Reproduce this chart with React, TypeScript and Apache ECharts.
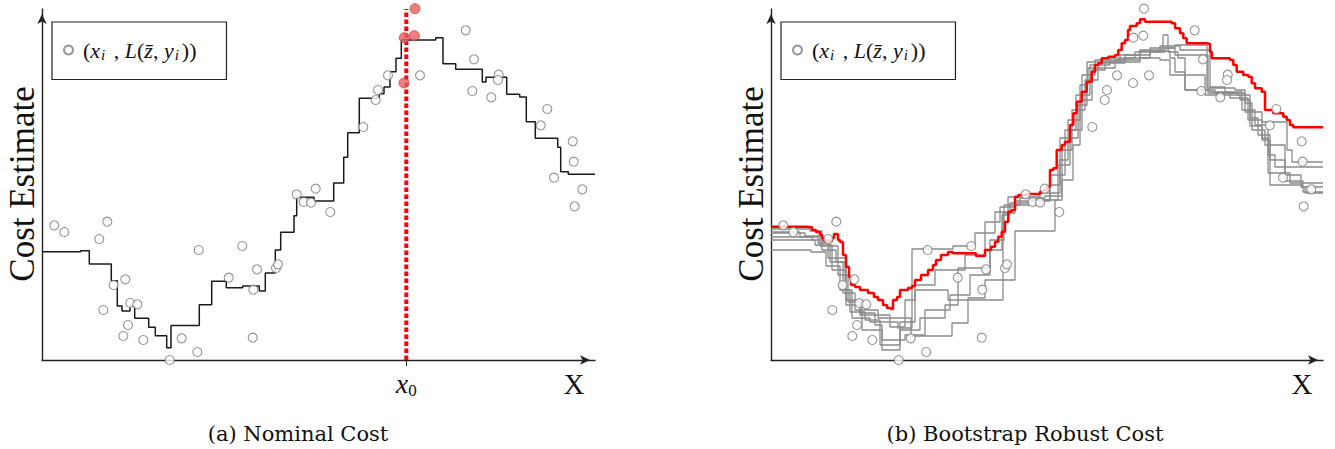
import React, { useEffect, useRef } from "react";
import * as echarts from "echarts";

// ---------- data (x: position along X, y: cost estimate) ----------
const samplePoints: number[][] = [
  [12.3, 134.7], [22.3, 128], [65.3, 138.3], [57.3, 121], [156.7, 110], [200.3, 114],
  [83.3, 80.7], [71.7, 75], [215, 90.7], [186.7, 82.3], [211.3, 70.3], [234, 92],
  [236, 95.7], [61.3, 50], [88.3, 57], [95.3, 55.7], [86, 35], [81.3, 24], [101.3, 20],
  [139.7, 21.7], [210.7, 22.3], [155.3, 8], [127.7, 0], [254.7, 165.7], [261.7, 158],
  [269, 157.3], [273.7, 171.3], [288.3, 148], [321.3, 233], [333.7, 260], [336, 270],
  [346, 284.7], [378, 284.7], [423.7, 329.7], [432, 300.7], [430.3, 269], [449.3, 262.7],
  [456.7, 285.3], [456, 280], [505.3, 251], [498.7, 234.7], [530.7, 218.7], [531.7, 198.3],
  [512, 182.3], [540.3, 170.7], [532.7, 153.7],
];
const nearX0Points: number[][] = [[373, 351.3], [362.3, 322.3], [372.3, 324.3], [362, 277]];
const x0 = 364.3;

const nominalCost: number[][] = [
  [0, 108.3], [38.7, 109.3], [47.3, 96], [69.3, 79.3], [75.3, 54], [80, 49], [88, 54],
  [92.7, 41.7], [106.7, 32.7], [113.3, 24.3], [124.7, 12.3], [129, 34.5], [157.3, 55.3],
  [169.7, 78.7], [184.3, 72.3], [200.7, 74], [217.3, 69], [223.3, 87], [233.3, 110],
  [238.7, 127.7], [252, 144.3], [254.7, 162.7], [272, 159], [291.7, 177], [301.7, 202.7],
  [305.7, 227.3], [317.3, 261.7], [337.3, 266.3], [342, 273], [348, 288.3], [354, 301.7],
  [359.3, 320], [393.7, 322.3], [401, 296.3], [413.7, 290.7], [440.3, 278], [444, 282.7],
  [464.7, 265.7], [477.7, 263], [484.3, 238.3], [493.3, 221.7], [515.7, 212.7],
  [518.7, 188.3], [526.3, 185.7], [553, 185.7],
];

const bootstrap1: number[][] = [
  [0, 131], [39, 129], [51, 110], [65, 98], [74, 70], [81, 42], [99, 38], [127, 32],
  [141, 111], [182, 114], [204, 127], [224, 148], [237, 163], [269, 167], [289, 222],
  [307, 255], [316, 298], [349, 305], [369, 310], [392, 325], [397, 308], [407, 302],
  [414, 270], [439, 268], [459, 262], [477, 240], [491, 222], [497, 187], [519, 177], [552, 177],
];
const bootstrap2: number[][] = [
  [0, 128], [29, 123], [47, 117], [57, 102], [75, 60], [91, 30], [111, 10], [129, 38],
  [144, 70], [177, 60], [232, 147], [244, 155], [271, 160], [287, 195], [299, 230],
  [311, 285], [324, 300], [354, 305], [379, 312], [404, 315], [436, 272], [464, 270],
  [474, 248], [491, 238], [516, 210], [521, 198], [552, 198],
];
const bootstrap3: number[][] = [
  [0, 123], [41, 120], [59, 98], [72, 67], [84, 50], [107, 42], [140, 24], [181, 37],
  [197, 62], [214, 80], [244, 129], [284, 160], [291, 180], [302, 215], [309, 260],
  [321, 290], [334, 298], [369, 302], [389, 300], [399, 285], [434, 265], [469, 260],
  [479, 234], [491, 220], [499, 175], [531, 173], [534, 167], [552, 167],
];
const bootstrap4: number[][] = [
  [0, 120], [44, 115], [61, 90], [75, 55], [89, 47], [104, 35], [111, 20], [134, 25],
  [154, 50], [179, 65], [199, 85], [219, 110], [231, 145], [239, 157], [259, 160],
  [279, 185], [294, 230], [305, 265], [319, 295], [339, 302], [364, 308], [389, 314],
  [409, 310], [439, 273], [454, 268], [471, 250], [484, 235], [497, 205], [504, 193], [552, 193],
];
const bootstrap5: number[][] = [
  [0, 110], [40, 108], [55, 94], [69, 70], [79, 48], [94, 40], [109, 15], [129, 30],
  [149, 42], [174, 55], [187, 92], [219, 120], [233, 155], [249, 162], [274, 164],
  [291, 210], [301, 250], [314, 280], [327, 297], [354, 302], [379, 308], [394, 312],
  [404, 305], [437, 267], [467, 265], [479, 242], [487, 225], [499, 200], [514, 179],
  [532, 168], [552, 168],
];
const bootstrap6: number[][] = [
  [0, 127], [34, 124], [49, 114], [67, 85], [77, 58], [89, 45], [119, 33], [134, 60],
  [144, 75], [164, 90], [194, 105], [214, 138], [229, 153], [244, 159], [279, 175],
  [289, 200], [297, 240], [309, 275], [317, 292], [344, 300], [369, 309], [399, 302],
  [404, 288], [414, 270], [444, 267], [474, 257], [481, 230], [494, 215], [514, 185],
  [530, 173], [552, 173],
];
const robustCost: number[][] = [
  [0, 133.3], [35, 132.7], [41, 130], [45, 128], [49, 125.3], [51, 122], [53, 119],
  [61, 122], [63, 126], [67, 120], [69, 118], [72, 105], [75, 93], [78, 83], [80, 75],
  [84, 73], [89, 70], [97, 67], [103, 63], [107, 60], [112, 55], [116, 52], [120, 51],
  [122, 60], [126, 63], [129, 70], [137, 72], [141, 74], [144, 80], [150, 85], [157, 90],
  [162, 95], [165, 100], [170, 105], [177, 108], [182, 106.7], [197, 106.7], [205, 104],
  [214, 110], [220, 113.3], [224, 118.3], [227.3, 123.3], [230.7, 128.3], [234, 138.3],
  [237.3, 148.3], [240.7, 150], [244, 163.3], [247.3, 165], [255.7, 166], [269, 168.3],
  [272.3, 170], [275.7, 173.3], [279, 190], [282.3, 191.7], [285.7, 210], [290.7, 215],
  [294, 218.3], [299, 235], [302.3, 246.7], [305.7, 258.3], [310.7, 268.3], [315.7, 278.3],
  [320.7, 288.3], [324, 295], [327.3, 296.7], [330.7, 301.7], [337.3, 303.3], [344, 305],
  [347.3, 310], [350.7, 316.7], [354, 320], [357, 330], [359, 334], [365.7, 336.7],
  [369, 340.7], [374, 338.3], [392.3, 338.3], [400.7, 336.7], [404, 331.7], [409, 326.7],
  [412.3, 321.7], [415.7, 316.7], [435.7, 316], [439, 308.3], [440.7, 301.7], [459, 300],
  [462.3, 295], [465.7, 288.3], [472.3, 285], [477.3, 283.3], [480.7, 276.7], [484, 271.7],
  [490.7, 268.3], [494, 250], [502.3, 246.7], [512.3, 243.3], [515.7, 240], [519, 235],
  [522.3, 232.7], [552, 232.7],
];
const bootstrapLines = [bootstrap1, bootstrap2, bootstrap3, bootstrap4, bootstrap5, bootstrap6];

const captions = ["(a) Nominal Cost", "(b) Bootstrap Robust Cost"];
const yLabel = "Cost Estimate";
const xLabel = "X";
const pointsName = "samples";

// ---------- styles ----------
const SERIF = "'Liberation Serif', 'DejaVu Serif', serif";
const axisColor = "#222";
const hollow = { color: "#fff", borderColor: "#7a7a7a", borderWidth: 1.1 };

const legendRich = {
  p: { fontFamily: SERIF, fontSize: 22, color: "#111" },
  i: { fontFamily: SERIF, fontSize: 22, fontStyle: "italic", color: "#111" },
  sub: { fontFamily: SERIF, fontSize: 15, fontStyle: "italic", color: "#111", padding: [10, 3, 0, 1] },
};
const legendText = "{p|(}{i|x}{sub|i}{p| , }{i|L}{p|(}{i|z\u0304}{p|, }{i|y}{sub|i}{p|))}";

function makeAxes(isLeft: boolean, idx: number) {
  const xAxis: any = {
    type: "value", gridIndex: idx, min: 0, max: isLeft ? 553 : 552,
    splitLine: { show: false },
    axisLine: {
      show: true, onZero: false, symbol: ["none", "arrow"], symbolSize: [7, 10],
      symbolOffset: [0, -5], lineStyle: { color: axisColor, width: 1.4 },
    },
    axisTick: { show: false },
    axisLabel: { show: false },
  };
  if (isLeft) {
    xAxis.axisTick = {
      show: true, customValues: [x0], length: 6, lineStyle: { color: axisColor, width: 1 },
    };
    xAxis.axisLabel = {
      show: true, customValues: [x0], margin: 8,
      formatter: () => "{v|x}{s|0}",
      rich: {
        v: { fontFamily: SERIF, fontStyle: "italic", fontSize: 28, color: "#111" },
        s: { fontFamily: SERIF, fontSize: 17, color: "#111", padding: [14, 0, 0, 0] },
      },
    };
  }
  const yAxis: any = {
    type: "value", gridIndex: idx, min: 0, max: 351,
    splitLine: { show: false },
    axisLine: {
      show: true, onZero: false, symbol: ["none", "arrow"], symbolSize: [7, 10],
      symbolOffset: [0, -5], lineStyle: { color: axisColor, width: 1.4 },
    },
    axisTick: { show: false },
    axisLabel: { show: false },
  };
  return { xAxis, yAxis };
}

export default function App() {
  const ref = useRef<HTMLDivElement>(null);
  useEffect(() => {
    if (!ref.current) return;
    const chart = echarts.init(ref.current, null, { renderer: "svg" });
    const a0 = makeAxes(true, 0);
    const a1 = makeAxes(false, 1);
    const series: any[] = [
      {
        type: "line", xAxisIndex: 0, yAxisIndex: 0, data: nominalCost, step: "end",
        symbol: "none", lineStyle: { color: "#1a1a1a", width: 1.5 }, z: 2, silent: true,
      },
      {
        type: "line", xAxisIndex: 0, yAxisIndex: 0, data: [[x0, 0], [x0, 351]],
        symbol: "none", lineStyle: { color: "#ff0000", width: 4, type: [4.5, 2.5] }, z: 3, silent: true,
      },
      {
        type: "scatter", name: pointsName, xAxisIndex: 0, yAxisIndex: 0, data: samplePoints,
        symbol: "circle", symbolSize: 9, itemStyle: hollow, z: 4, clip: false, silent: true,
      },
      {
        type: "scatter", name: "near x0", xAxisIndex: 0, yAxisIndex: 0, data: nearX0Points,
        symbol: "circle", symbolSize: 10,
        itemStyle: { color: "#e8605f", borderColor: "#c94747", borderWidth: 1 }, z: 5, clip: false, silent: true,
      },
      ...bootstrapLines.map((d) => ({
        type: "line", xAxisIndex: 1, yAxisIndex: 1, data: d, step: "end", symbol: "none",
        lineStyle: { color: "#8a8a8a", width: 1.3 }, z: 2, silent: true,
      })),
      {
        type: "line", xAxisIndex: 1, yAxisIndex: 1, data: robustCost, step: "end", symbol: "none",
        lineStyle: { color: "#ff0000", width: 2.5 }, z: 3, silent: true,
      },
      {
        type: "scatter", name: pointsName, xAxisIndex: 1, yAxisIndex: 1,
        data: samplePoints.concat(nearX0Points), symbol: "circle", symbolSize: 9,
        itemStyle: hollow, z: 4, clip: false, silent: true,
      },
    ];
    const legendBase = {
      data: [pointsName], top: 22, orient: "horizontal", icon: "circle",
      itemWidth: 9, itemHeight: 9, borderColor: "#222", borderWidth: 1.2,
      backgroundColor: "#fff", padding: [17, 30, 17, 11],
      selectedMode: false, formatter: () => legendText,
      textStyle: { rich: legendRich, padding: [0, 0, 0, 5] },
    };
    const textStyle = (size: number, family = SERIF) => ({ fontFamily: family, fontSize: size, fill: "#111" });
    chart.setOption({
      animation: false,
      backgroundColor: "#fff",
      grid: [
        { left: 42, top: 9, width: 553, height: 351 },
        { left: 771, top: 9, width: 552, height: 351 },
      ],
      xAxis: [a0.xAxis, a1.xAxis],
      yAxis: [a0.yAxis, a1.yAxis],
      legend: [
        { ...legendBase, left: 52 },
        { ...legendBase, left: 781 },
      ],
      graphic: [
        { type: "text", x: 22.5, y: 184, rotation: Math.PI / 2, style: { text: yLabel, align: "center", verticalAlign: "middle", ...textStyle(35) } },
        { type: "text", x: 751, y: 184, rotation: Math.PI / 2, style: { text: yLabel, align: "center", verticalAlign: "middle", ...textStyle(35) } },
        { type: "text", x: 574, y: 384, style: { text: xLabel, align: "center", verticalAlign: "middle", ...textStyle(29) } },
        { type: "text", x: 1302, y: 384, style: { text: xLabel, align: "center", verticalAlign: "middle", ...textStyle(29) } },
        { type: "text", x: 298, y: 434, style: { text: captions[0], align: "center", verticalAlign: "middle", ...textStyle(21, "'DejaVu Serif', serif") } },
        { type: "text", x: 1025, y: 434, style: { text: captions[1], align: "center", verticalAlign: "middle", ...textStyle(21, "'DejaVu Serif', serif") } },
      ],
      series,
    });
    return () => chart.dispose();
  }, []);
  return (
    <div
      ref={ref}
      style={{ position: "absolute", left: 0, top: 0, width: 1335, height: 449, background: "#fff" }}
    />
  );
}
